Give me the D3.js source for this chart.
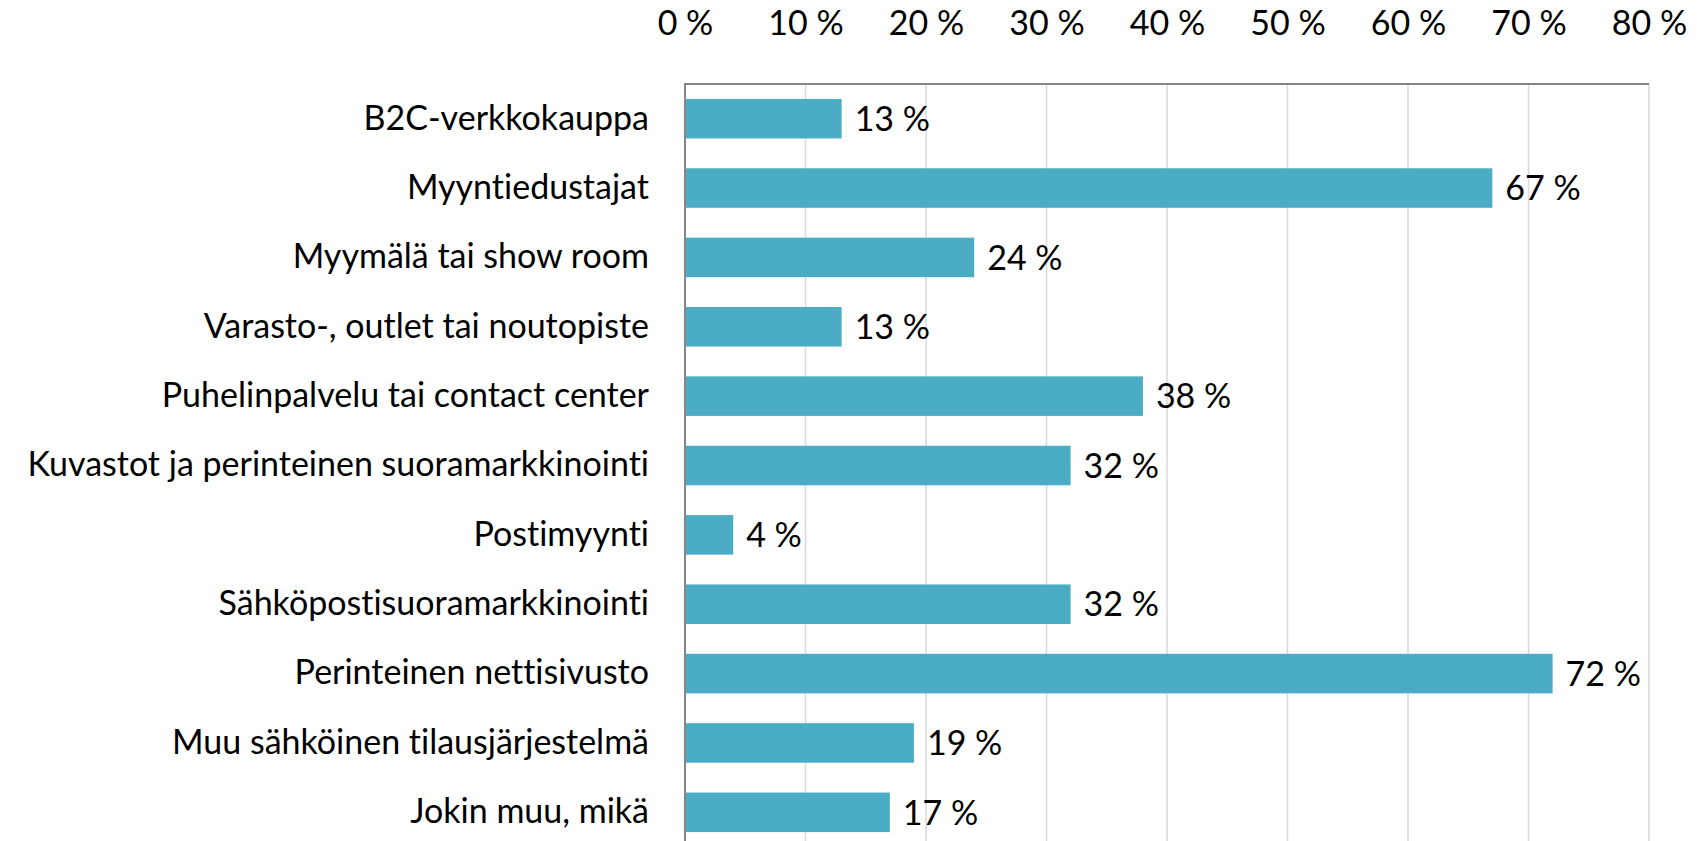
<!DOCTYPE html>
<html>
<head>
<meta charset="utf-8">
<script src="https://cdn.jsdelivr.net/npm/d3@7"></script>
<style>
  body { margin: 0; background: #fff; }
  svg text { font-family: Lato, "Open Sans", sans-serif; fill: #000; font-variant-ligatures: none; }
</style>
</head>
<body>
<script>
'use strict';
(function () {
  let categories = [
    "B2C-verkkokauppa",
    "Myyntiedustajat",
    "Myymälä tai show room",
    "Varasto-, outlet tai noutopiste",
    "Puhelinpalvelu tai contact center",
    "Kuvastot ja perinteinen suoramarkkinointi",
    "Postimyynti",
    "Sähköpostisuoramarkkinointi",
    "Perinteinen nettisivusto",
    "Muu sähköinen tilausjärjestelmä",
    "Jokin muu, mikä"
  ];
  let values = [13, 67, 24, 13, 38, 32, 4, 32, 72, 19, 17];
  let ticks = [0, 10, 20, 30, 40, 50, 60, 70, 80];

  let width = 1702;
  let height = 841;
  let plot = { left: 685, right: 1649, top: 84, bottom: 847 };
  let fontSize = '34px';

  let svg = d3.select('body')
    .append('svg')
    .attr('width', width)
    .attr('height', height);

  let xScale = d3.scaleLinear()
    .domain([0, 80])
    .range([plot.left, plot.right]);

  let yScale = d3.scaleBand()
    .domain(categories)
    .range([plot.top, plot.bottom])
    .paddingInner(0.43)
    .paddingOuter(0.215);

  // gridlines
  svg.append('g')
    .selectAll('line')
    .data(ticks.slice(1))
    .enter()
    .append('line')
    .attr('x1', (d) => xScale(d))
    .attr('x2', (d) => xScale(d))
    .attr('y1', plot.top)
    .attr('y2', plot.bottom)
    .attr('stroke', '#d9d9d9')
    .attr('stroke-width', 1.5);

  // bars
  svg.append('g')
    .selectAll('rect')
    .data(values)
    .enter()
    .append('rect')
    .attr('x', xScale(0))
    .attr('y', (d, i) => yScale(categories[i]))
    .attr('width', (d) => xScale(d) - xScale(0))
    .attr('height', yScale.bandwidth())
    .attr('fill', '#4bacc6');

  // value labels
  svg.append('g')
    .selectAll('text')
    .data(values)
    .enter()
    .append('text')
    .attr('x', (d) => xScale(d) + 13)
    .attr('y', (d, i) => yScale(categories[i]) + yScale.bandwidth() / 2)
    .attr('dy', '0.36em')
    .style('font-size', fontSize)
    .text((d) => d + ' %');

  // top axis
  let xAxis = d3.axisTop(xScale)
    .tickValues(ticks)
    .tickSize(0)
    .tickPadding(0)
    .tickFormat((d) => d + ' %');
  let gx = svg.append('g')
    .attr('transform', 'translate(0,' + plot.top + ')')
    .call(xAxis);
  gx.select('.domain').remove();
  gx.selectAll('text')
    .attr('y', 35 - plot.top)
    .attr('dy', null)
    .style('font-size', fontSize)
    .style('font-family', 'Lato, "Open Sans", sans-serif');

  svg.append('line')
    .attr('x1', plot.left)
    .attr('x2', plot.right)
    .attr('y1', plot.top)
    .attr('y2', plot.top)
    .attr('stroke', '#868686')
    .attr('stroke-width', 2);

  // left axis
  let yAxis = d3.axisLeft(yScale)
    .tickSize(0)
    .tickPadding(36);
  let gy = svg.append('g')
    .attr('transform', 'translate(' + plot.left + ',0)')
    .call(yAxis);
  gy.select('.domain').remove();
  gy.selectAll('text')
    .style('font-size', fontSize)
    .style('font-family', 'Lato, "Open Sans", sans-serif');

  svg.append('line')
    .attr('x1', plot.left)
    .attr('x2', plot.left)
    .attr('y1', plot.top - 1)
    .attr('y2', plot.bottom)
    .attr('stroke', '#868686')
    .attr('stroke-width', 2);
})();
</script>
</body>
</html>
